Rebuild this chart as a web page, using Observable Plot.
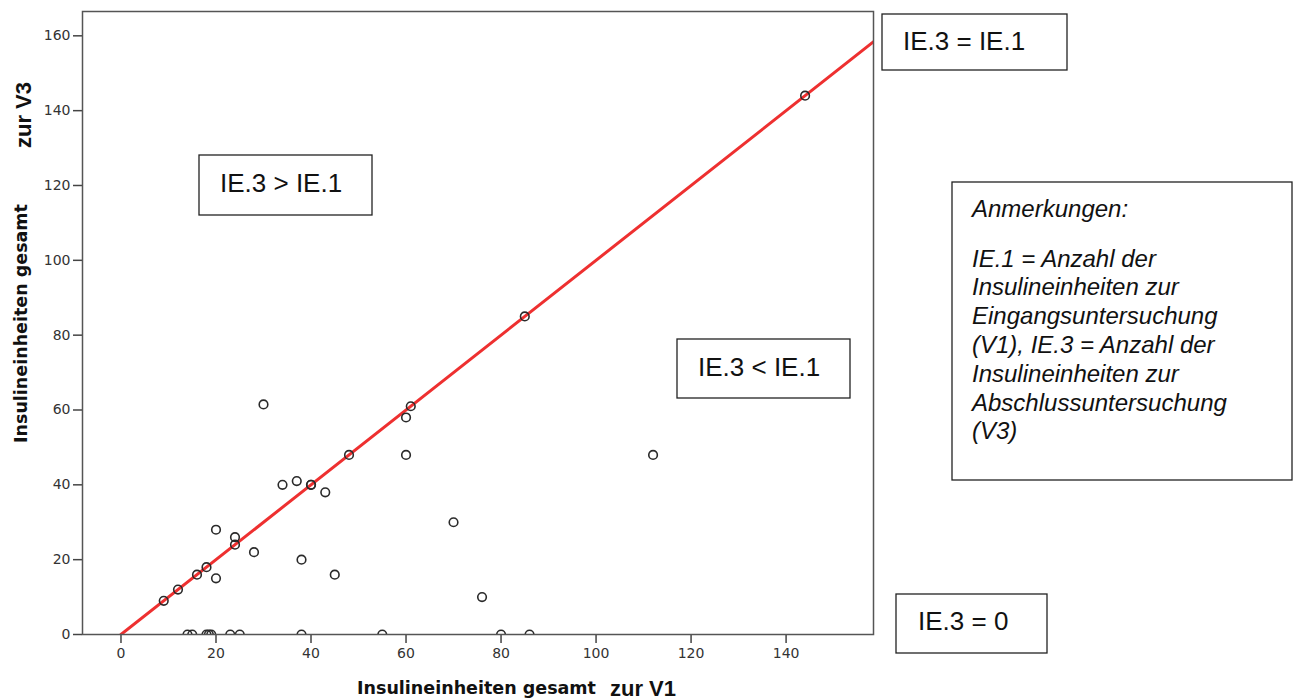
<!DOCTYPE html>
<html><head><meta charset="utf-8">
<script src="https://cdn.jsdelivr.net/npm/d3@7"></script>
<script src="https://cdn.jsdelivr.net/npm/@observablehq/plot@0.6"></script>
<style>
body{margin:0;background:#fff;}
#wrap{position:relative;width:1297px;height:700px;}
</style></head><body><div id="wrap"></div>
<script>
// Insulin units at V1 (x) and V3 (y)
const v1 = [9, 12, 16, 18, 20, 20, 24, 24, 28, 38, 45, 30, 34, 37, 40, 40, 43, 48, 60, 60, 61, 70, 76, 85, 112, 144,
            14, 15, 18, 18.5, 19, 23, 25, 38, 55, 80, 86];
const v3 = [9, 12, 16, 18, 15, 28, 26, 24, 22, 20, 16, 61.5, 40, 41, 40, 40, 38, 48, 48, 58, 61, 30, 10, 85, 48, 144,
            0, 0, 0, 0, 0, 0, 0, 0, 0, 0, 0];
const xTicks = [0, 20, 40, 60, 80, 100, 120, 140];
const yTicks = [0, 20, 40, 60, 80, 100, 120, 140, 160];
const identityEnds = [0, 160];
const xLabelMain = "Insulineinheiten gesamt", xLabelExtra = "zur V1";
const yLabelMain = "Insulineinheiten gesamt", yLabelExtra = "zur V3";
const noteLines = ["Anmerkungen:", "IE.1 = Anzahl der", "Insulineinheiten zur", "Eingangsuntersuchung",
                   "(V1), IE.3 = Anzahl der", "Insulineinheiten zur", "Abschlussuntersuchung", "(V3)"];

const points = v1.map((x, i) => ({v1: x, v3: v3[i]}));

const chart = Plot.plot({
  width: 1297, height: 700,
  marginLeft: 82, marginTop: 11, marginRight: 424, marginBottom: 66,
  x: {domain: [-8.1, 158.4], label: null},
  y: {domain: [0, 166.5], label: null},
  style: {fontFamily: "DejaVu Sans", fontSize: "13px", color: "#333", background: "white"},
  marks: [
    Plot.axisX({ticks: xTicks, tickSize: 9, tickPadding: 5, fontSize: 13, label: null, tickFormat: d => String(d)}),
    Plot.axisY({ticks: yTicks, tickSize: 9, tickPadding: 3, fontSize: 13, label: null, tickFormat: d => String(d)}),
    Plot.line(identityEnds, {x: d => d, y: d => d, stroke: "#ee3030", strokeWidth: 3, clip: true}),
    Plot.dot(points, {x: "v1", y: "v3", r: 4.3, stroke: "#2a2a2a", strokeWidth: 1.6, fill: "none", clip: true}),
    Plot.frame({stroke: "#555", strokeWidth: 1.5})
  ]
});
document.getElementById("wrap").appendChild(chart);

const svg = d3.select(chart);
// enlarge the tick labels (only Plot's own texts exist at this point)
svg.selectAll("text").style("font-size", "14px").style("font-family", "DejaVu Sans").style("fill", "#333");
svg.selectAll('g[aria-label$="-axis tick"]').attr("stroke", "#444").attr("stroke-width", 1.5);

const ink = "#111";
const g = svg.append("g").attr("text-anchor", "start");
// axis titles
g.append("text").attr("x", 357).attr("y", 694).attr("font-family", "DejaVu Sans").attr("font-weight", "bold")
  .attr("font-size", 17.5).attr("fill", ink).text(xLabelMain);
g.append("text").attr("x", 610).attr("y", 696).attr("font-family", "Liberation Sans").attr("font-weight", "bold")
  .attr("font-size", 22).attr("fill", ink).text(xLabelExtra);
g.append("text").attr("transform", "translate(27,443) rotate(-90)").attr("font-family", "DejaVu Sans").attr("font-weight", "bold")
  .attr("font-size", 17.5).attr("fill", ink).text(yLabelMain);
g.append("text").attr("transform", "translate(31,148) rotate(-90)").attr("font-family", "Liberation Sans").attr("font-weight", "bold")
  .attr("font-size", 22).attr("fill", ink).text(yLabelExtra);

// annotation boxes
const boxes = [
  {x0: 199, y0: 155, x1: 372, y1: 215, tx: 220, ty: 192, text: "IE.3 > IE.1"},
  {x0: 882, y0: 14, x1: 1067, y1: 70, tx: 903, ty: 50, text: "IE.3 = IE.1"},
  {x0: 677, y0: 339, x1: 850, y1: 398, tx: 698, ty: 376, text: "IE.3 < IE.1"},
  {x0: 896, y0: 594, x1: 1047, y1: 653, tx: 918, ty: 630, text: "IE.3 = 0"}
];
for (const b of boxes) {
  g.append("rect").attr("x", b.x0).attr("y", b.y0).attr("width", b.x1 - b.x0).attr("height", b.y1 - b.y0)
    .attr("fill", "white").attr("stroke", "#222").attr("stroke-width", 1.3);
  g.append("text").attr("x", b.tx).attr("y", b.ty).attr("font-family", "Liberation Sans")
    .attr("font-size", 26).attr("fill", ink).text(b.text);
}
g.append("rect").attr("x", 952).attr("y", 182).attr("width", 340).attr("height", 298)
  .attr("fill", "white").attr("stroke", "#222").attr("stroke-width", 1.3);
const baselines = [216.5, 266.5, 295.3, 324.1, 352.9, 381.7, 410.5, 439.3];
noteLines.forEach((t, i) => {
  g.append("text").attr("x", 972).attr("y", baselines[i]).attr("font-family", "Liberation Sans")
    .attr("font-style", "italic").attr("font-size", 24).attr("fill", ink).text(t);
});
</script></body></html>
